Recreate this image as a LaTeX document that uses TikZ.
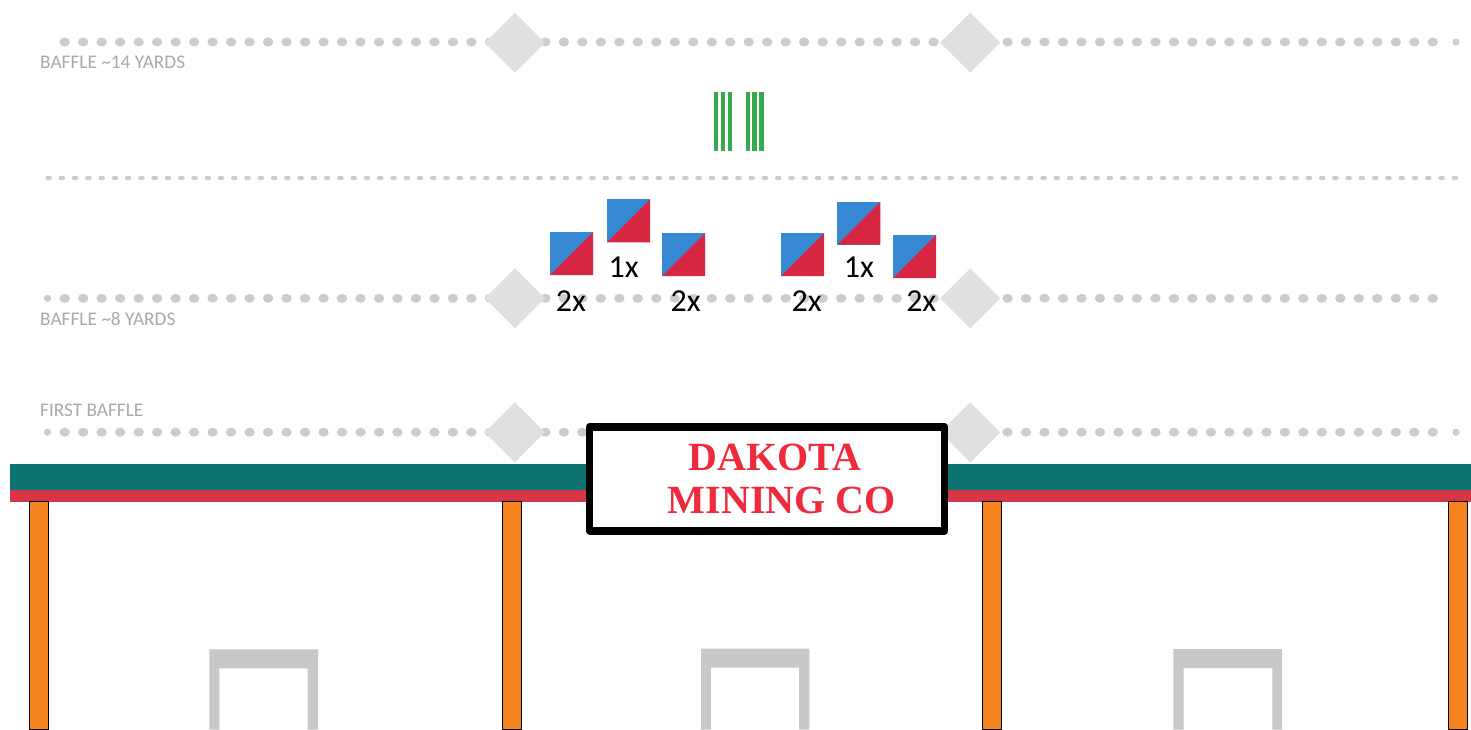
\documentclass[tikz,border=0pt]{standalone}
\usepackage{fontspec}
\setmainfont{Carlito}
\newfontfamily\signfont{Liberation Serif}
\definecolor{dotgrey}{HTML}{CCCCCA}
\definecolor{diamondgrey}{HTML}{E0E0E0}
\definecolor{gategrey}{HTML}{C8C8C6}
\definecolor{teal2}{HTML}{0D7371}
\definecolor{bandred}{HTML}{D73548}
\definecolor{postorange}{HTML}{F58420}
\definecolor{signred}{HTML}{EE2A3C}
\definecolor{linegreen}{HTML}{38A94F}
\definecolor{sqblue}{HTML}{3889D4}
\definecolor{sqred}{HTML}{D62641}
\definecolor{labelgrey}{HTML}{A8A9AB}
\tikzset{
  baffletext/.style={anchor=base west,inner sep=0pt,text=labelgrey,font=\fontsize{19.3}{19.3}\selectfont},
  counttext/.style={anchor=base,inner sep=0pt,text=black,font=\fontsize{32}{32}\selectfont},
  signtext/.style={anchor=base,inner sep=0pt,text=signred,font=\signfont\bfseries\fontsize{40}{40}\selectfont},
  poststyle/.style={fill=postorange,draw=black,line width=0.9pt},
}
\newcommand{\dotrow}[1]{%
  \foreach \k in {0,...,74} {
    \fill[dotgrey] ({64.7+18.487*\k},#1) ellipse [x radius=5.2pt,y radius=4.5pt];
  }}
\newcommand{\diamondpair}[1]{%
  \foreach \cx in {514.8,970.2} {
    \fill[diamondgrey] (\cx-30,#1) -- (\cx,#1-30) -- (\cx+30,#1) -- (\cx,#1+30) -- cycle;
  }}
\newcommand{\splitsquare}[2]{%
  \fill[sqblue] (#1,#2) rectangle ++(43,43);
  \fill[sqred] (#1,#2+43) -- (#1+43,#2) -- (#1+43,#2+43) -- cycle;}
\newcommand{\gate}[5]{%
  \fill[gategrey] (#1,729.5) -- (#1,#3) -- (#2,#3) -- (#2,729.5) -- (#5,729.5) -- (#5,#3+19) -- (#4,#3+19) -- (#4,729.5) -- cycle;}
\begin{document}
\begin{tikzpicture}[x=1pt,y=-1pt]
\useasboundingbox (0,0) rectangle (1471,730);
\fill[white] (0,0) rectangle (1471,730);
% dotted rows
\dotrow{42}
\fill[dotgrey] (1456,42) ellipse [x radius=3.6pt,y radius=3.6pt];
\foreach \k in {0,...,106} {
  \fill[dotgrey] ({48.6+13.266*\k},178) ellipse [x radius=3.4pt,y radius=2.3pt];
}
\dotrow{298.3}
\fill[dotgrey] (47.5,298.3) ellipse [x radius=3.6pt,y radius=3.6pt];
\dotrow{432.2}
\fill[dotgrey] (47.5,432.2) ellipse [x radius=3.6pt,y radius=3.6pt];
\fill[dotgrey] (1456,432.2) ellipse [x radius=3.6pt,y radius=3.6pt];
% diamonds
\diamondpair{42.7}
\diamondpair{298.3}
\diamondpair{432.3}
% baffle labels
\node[baffletext] (b14) at (40,68.3) {BAFFLE \textasciitilde14 YARDS};
\node[baffletext] (b8) at (40,325) {BAFFLE \textasciitilde8 YARDS};
\node[baffletext] (bf) at (40,416) {FIRST BAFFLE};
% green lines
\foreach \gx in {714,720.5,727.6,745.6,752.2,759.3} {
  \fill[linegreen] (\gx,92) rectangle ++(4.3,59.3);
}
% squares
\splitsquare{550}{232}
\splitsquare{607}{199.3}
\splitsquare{662}{233}
\splitsquare{781}{233}
\splitsquare{837.3}{201.7}
\splitsquare{893}{235}
% counts
\node[counttext] (c1) at (571,311) {2x};
\node[counttext] (c2) at (623.6,277.7) {1x};
\node[counttext] (c3) at (685.7,311) {2x};
\node[counttext] (c4) at (806.7,311) {2x};
\node[counttext] (c5) at (859,277.7) {1x};
\node[counttext] (c6) at (921.3,311) {2x};
% band and posts
\fill[teal2] (10,463.8) rectangle (1471,489.5);
\fill[bandred] (10,489.5) rectangle (1471,501.7);
\draw[poststyle] (29.5,501.7) rectangle (48.5,729.5);
\draw[poststyle] (502,501.7) rectangle (521.5,729.5);
\draw[poststyle] (982.7,501.7) rectangle (1001.7,729.5);
\draw[poststyle] (1448.3,501.7) rectangle (1467,729.5);
% gates
\gate{209.3}{318}{649.3}{219.3}{307.7}
\gate{701}{809.3}{648.7}{710.8}{799}
\gate{1173.4}{1282}{649}{1183.5}{1272.4}
% sign
\draw[draw=black,fill=white,line width=7.6pt,line join=round] (589.6,426.7) rectangle (944.6,530.9);
\node[signtext] (s1) at (775,470.6) {DAKOTA};
\node[signtext] (s2) at (781.8,513.2) {MINING CO};
\end{tikzpicture}
\end{document}
